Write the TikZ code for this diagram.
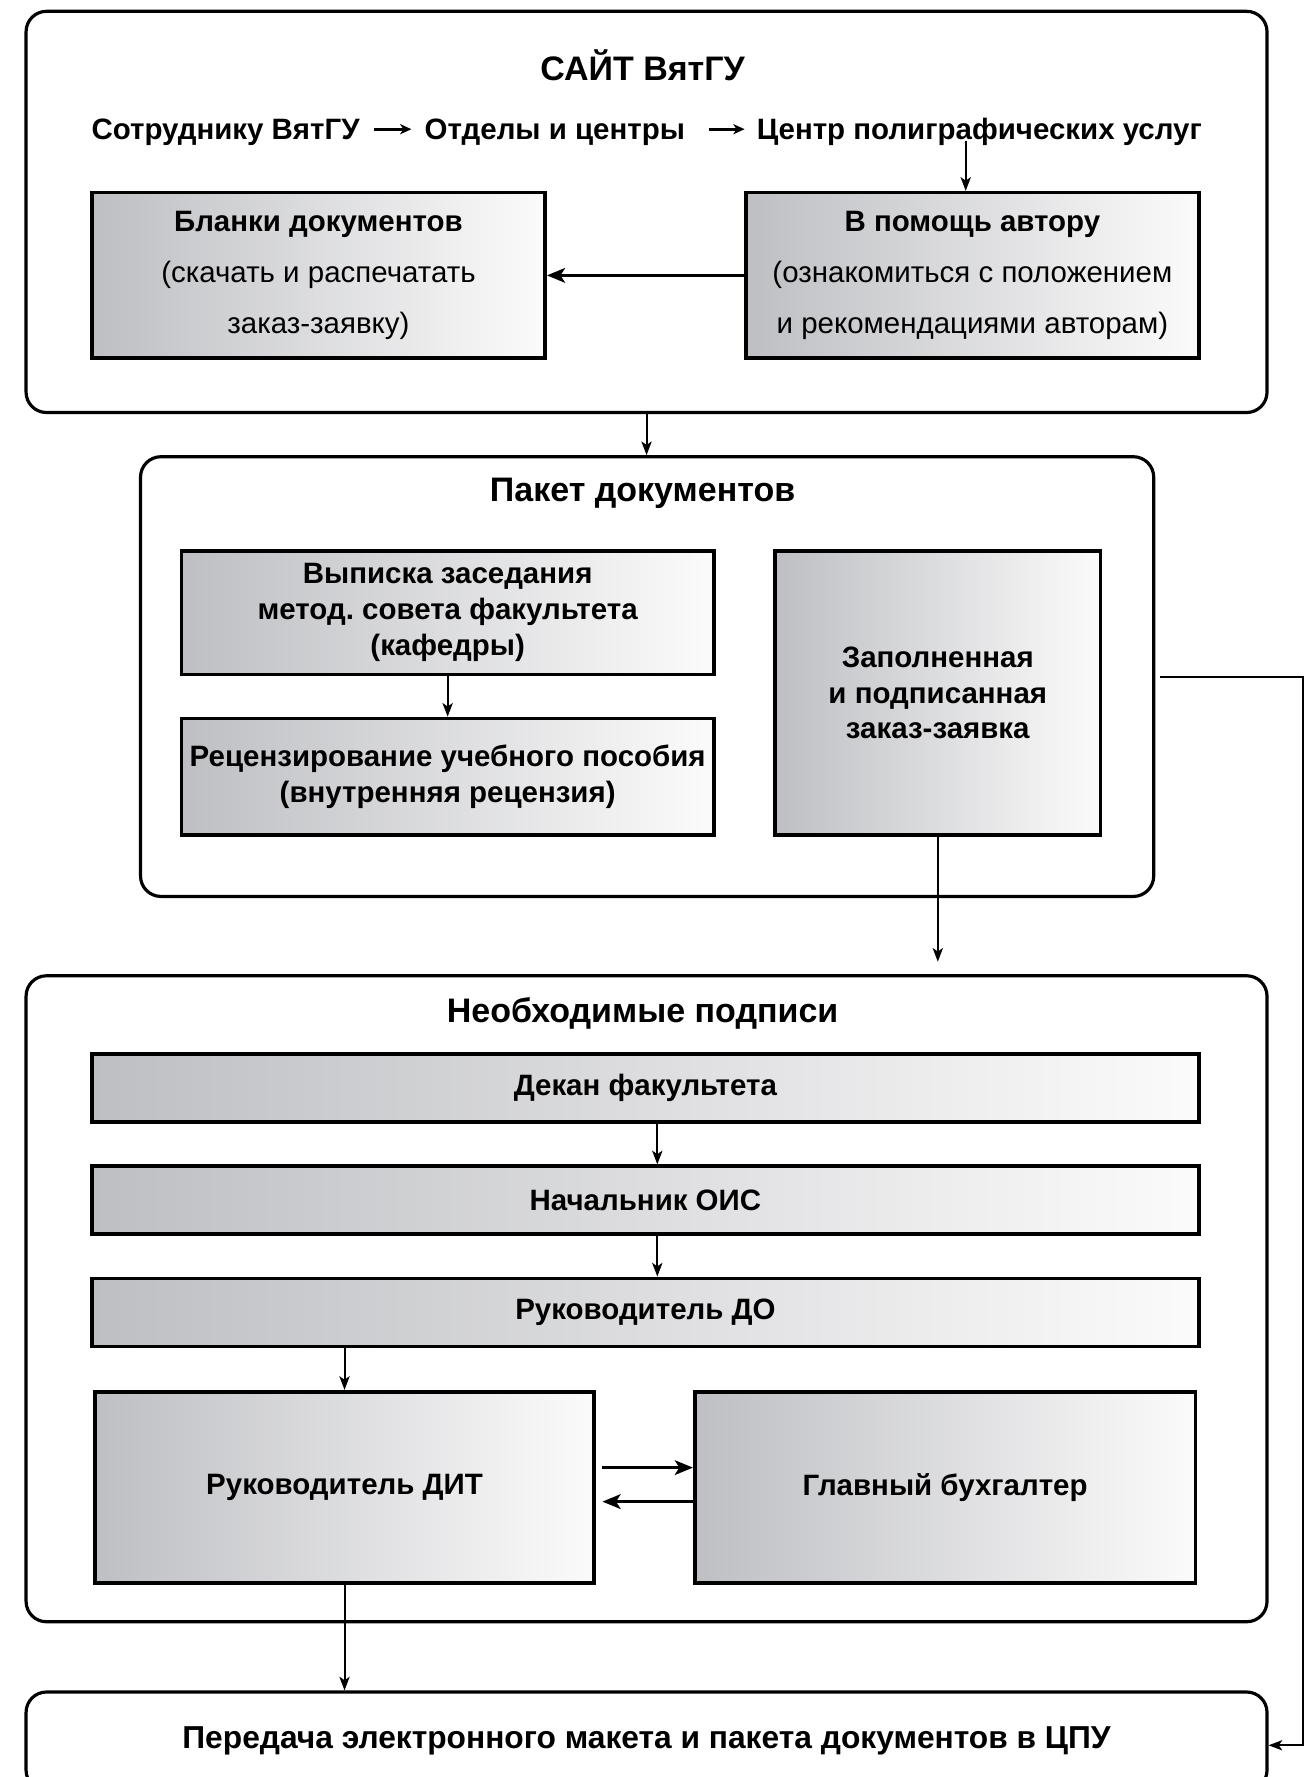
\documentclass[tikz,border=0pt]{standalone}
\usepackage{fontspec}
\setmainfont{Liberation Sans}
\usetikzlibrary{arrows.meta}
\frenchspacing

\definecolor{cardleft}{RGB}{190,191,195}
\definecolor{cardright}{RGB}{251,251,251}

\tikzset{every picture/.style={line width=0.75pt}}
\tikzset{
  frame/.style={draw, line width=1.4pt, rounded corners=9pt, inner sep=0pt},
  card/.style={draw, line width=1.6pt, left color=cardleft, right color=cardright, inner sep=0pt, align=center},
  cardb/.style={card, font=\bfseries\fontsize{13}{15.75}\selectfont},
  head/.style={font=\bfseries\fontsize{15}{18}\selectfont, inner sep=0pt},
  crumb/.style={font=\bfseries\fontsize{13}{15.75}\selectfont, inner sep=0pt, text height=9.3pt, text depth=0pt},
  flow/.style={-{Stealth[length=6pt,width=4.5pt,inset=1.5pt]}, line width=0.9pt},
  flowbold/.style={-{Stealth[length=8pt,width=6.5pt,inset=2pt]}, line width=1.3pt},
  crumbarrow/.style={-{Stealth[length=5pt,width=4.5pt,inset=1.5pt]}, line width=1.2pt}
}

\begin{document}
\begin{tikzpicture}[x=0.5pt,y=0.5pt,yscale=-1,xscale=1,font=\fontsize{13}{15.75}\selectfont]
	\useasboundingbox (0,0) rectangle (1161,1568);
	\clip (0,0) rectangle (1161,1568);

	% site
	\node [frame, minimum width=547.5pt, minimum height=177pt] (site) at (570.5,187) {};
	\node [head] (sitetitle) at (567,58) {САЙТ ВятГУ};
	\node [crumb, anchor=west] (staff) at (80,114) {Сотруднику ВятГУ};
	\node [crumb, anchor=west] (depts) at (374,114) {Отделы и центры};
	\node [crumb, anchor=west] (cpu) at (667,114) {Центр полиграфических услуг};
	\node [card, font=\fontsize{13}{22.5}\selectfont, minimum width=200pt, minimum height=73pt] (forms) at (281,243) {\textbf{Бланки документов}\\(скачать и распечатать\\заказ-заявку)};
	\node [card, font=\fontsize{13}{22.5}\selectfont, minimum width=200pt, minimum height=73pt] (help) at (858,243) {\textbf{В помощь автору}\\(ознакомиться с положением\\и рекомендациями авторам)};

	\draw [crumbarrow, shorten <=6pt, shorten >=5.5pt] (staff) -- (depts);
	\draw [crumbarrow, shorten <=10pt, shorten >=5pt] (depts) -- (cpu);
	\draw [flow] ([xshift=-6pt]cpu.south) -- ([xshift=-6pt]cpu.south |- help.north);
	\draw [flowbold] (help) -- (forms);

	% documents
	\node [frame, minimum width=447pt, minimum height=194pt] (pack) at (571,597) {};
	\node [head] (packtitle) at (567,435) {Пакет документов};
	\node [cardb, minimum width=235pt, minimum height=54.5pt] (extract) at (395,540.5) {Выписка заседания\\метод. совета факультета\\(кафедры)};
	\node [cardb, minimum width=235pt, minimum height=51.5pt] (review) at (395,685.5) {Рецензирование учебного пособия\\(внутренняя рецензия)};
	\node [cardb, minimum width=143.5pt, minimum height=125.5pt] (order) at (827.5,611.5) {Заполненная\\и подписанная\\заказ-заявка};

	\draw [flow] (site.south) -- (site.south |- pack.north);
	\draw [flow] (extract) -- (review);

	% signatures
	\node [frame, minimum width=547.5pt, minimum height=285pt] (sign) at (570.5,1146) {};
	\node [head] (signtitle) at (567,894) {Необходимые подписи};
	\node [cardb, minimum width=488.5pt, minimum height=30pt] (dean) at (569.5,960) {Декан факультета};
	\node [cardb, minimum width=488.5pt, minimum height=30pt] (ois) at (569.5,1059) {Начальник ОИС};
	\node [cardb, minimum width=488.5pt, minimum height=30pt] (do) at (569.5,1158) {Руководитель ДО};
	\node [cardb, minimum width=220pt, minimum height=84.5pt] (dit) at (304,1312.5) {Руководитель ДИТ};
	\node [cardb, minimum width=221pt, minimum height=84.5pt] (acc) at (834,1312.5) {Главный бухгалтер};

	\draw [flow] (order.south) -- ([yshift=-5.5pt]order.south |- sign.north);
	\draw [flow] ([xshift=5.25pt]dean.south) -- ([xshift=5.25pt]ois.north);
	\draw [flow] ([xshift=5.25pt]ois.south) -- ([xshift=5.25pt]do.north);
	\draw [flow] (dit.north |- do.south) -- (dit.north);
	\draw [flowbold, shorten <=3pt] ([yshift=-8.75pt]dit.east) -- ([yshift=-8.75pt]dit.east -| acc.west);
	\draw [flowbold, shorten >=3pt] ([yshift=6.25pt]acc.west) -- ([yshift=6.25pt]acc.west -| dit.east);

	% handover
	\node [frame, font=\bfseries\fontsize{14}{16.5}\selectfont, minimum width=547.5pt, minimum height=43.5pt] (handover) at (570.5,1536.5) {Передача электронного макета и пакета документов в ЦПУ};
	\coordinate (bend) at (1150,598);

	\draw [flow] (dit.south) -- (dit.south |- handover.north);
	\draw [flow, shorten <=2pt] (pack.east) -- (pack.east -| bend) |- ([yshift=1.75pt]handover.east);

\end{tikzpicture}
\end{document}
